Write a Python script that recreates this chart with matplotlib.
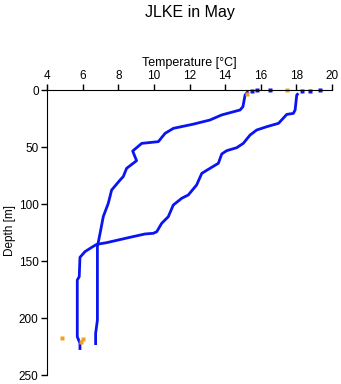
import matplotlib
matplotlib.use('Agg')
import matplotlib.pyplot as plt

plt.rcParams['font.family'] = ['Liberation Sans', 'DejaVu Sans']

# profile 1 (cooler surface, ends ~6.8 °C)
t1 = [15.3, 15.12, 15.0, 14.84, 13.8, 13.15, 12.2, 11.1, 10.63, 10.25, 9.32, 8.81,
      9.03, 8.47, 8.28, 8.1, 7.63, 7.44, 7.16, 6.98, 6.83, 6.83, 6.83, 6.73, 6.73]
d1 = [1.0, 4.4, 14.6, 17.5, 21.9, 26.3, 30.0, 33.6, 38.0, 45.3, 46.8, 53.5,
      62.0, 68.7, 76.0, 79.0, 87.7, 99.4, 111.0, 125.7, 137.4, 155.0, 201.8, 213.5, 223.7]
surf1_t = [15.5, 15.8, 16.5]
surf1_d = [0.5, 0.3, 0.2]

# profile 2 (warmer surface, ends ~5.8 °C)
t2 = [18.11, 18.02, 17.93, 17.83, 17.46, 17.0, 16.33, 15.77, 15.4, 15.02, 14.65,
      14.09, 13.81, 13.62, 13.15, 12.69, 12.4, 11.93, 11.56, 11.09, 10.81, 10.44,
      10.16, 9.97, 9.5, 8.66, 7.35, 6.79, 6.51, 6.13, 5.85, 5.81, 5.7, 5.7, 5.85, 5.85]
d2 = [2.9, 4.4, 17.5, 20.5, 21.4, 29.2, 32.2, 35.1, 39.5, 46.8, 50.6,
      53.2, 56.1, 64.3, 68.7, 73.1, 83.3, 92.1, 95.0, 100.9, 111.1, 116.9,
      124.3, 125.7, 126.3, 129.2, 133.9, 135.4, 138.0, 141.8, 146.8, 163.7, 166.7, 216.4, 222.2, 228.0]
surf2_t = [18.3, 18.77, 19.33]
surf2_d = [0.5, 0.5, 0.0]

# orange points
orange_t = [15.21, 17.49, 4.86, 6.04, 5.91]
orange_d = [3.8, 0.3, 217.8, 218.4, 221.3]

blue = '#0a14f0'
orange = '#f0a020'

fig = plt.figure(figsize=(3.41, 3.84), dpi=100)
ax = fig.add_axes([47/341, 1 - 375/384, 285/341, 290/384])

ax.plot(t1, d1, color=blue, lw=2.0, solid_capstyle='butt')
ax.plot(t2, d2, color=blue, lw=2.0, solid_capstyle='butt')
ax.plot(surf1_t + surf2_t, surf1_d + surf2_d, 's', color=blue, ms=2.6, mec='none')
ax.plot(orange_t, orange_d, 's', color=orange, ms=2.6, mec='none')

ax.set_xlim(4, 20)
ax.set_ylim(250, -4.4)
ax.set_xticks(range(4, 21, 2))
ax.set_yticks(range(0, 251, 50))

ax.spines['right'].set_visible(False)
ax.spines['bottom'].set_visible(False)
ax.spines['top'].set_position(('data', 0))
ax.xaxis.tick_top()
ax.xaxis.set_label_position('top')
ax.tick_params(direction='out', length=4, width=1, labelsize=8.5, pad=2)

ax.set_xlabel('Temperature [°C]', fontsize=9, labelpad=3)
ax.set_ylabel('Depth [m]', fontsize=8.5, labelpad=2)
fig.text(190/341, 1 - 12/384, 'JLKE in May', ha='center', va='center', fontsize=11.5)

fig.savefig('out.png', dpi=100)
